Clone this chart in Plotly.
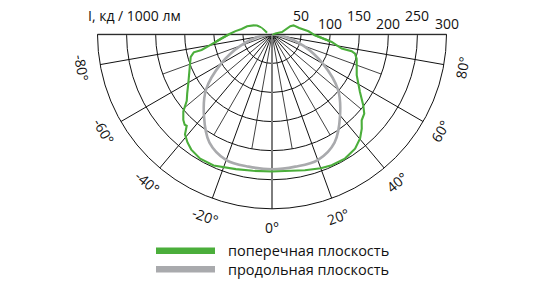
import math
import plotly.graph_objects as go

W, H = 540, 300

# ---- data ----
# transverse plane (green), path order, degrees from nadir (+ right)
green_theta = [-108, -124, -120, -116, -108, -100, -95, -90, -85, -80, -77.5, -77, -74.5,
               -70, -65, -60, -55, -52, -49, -46, -44, -43, -41, -38, -35, -30, -24,
               -15, -8, 0, 8, 13.6, 20, 24.5, 30.4, 36, 40.2, 43.6, 46.2, 49.3, 52.1,
               56.7, 64.2, 70, 74, 76.9, 78, 78.4, 82.7, 88.7, 94.7, 103, 112.5, 114,
               103, 103]
green_r = [9, 21, 30, 35, 45, 53, 63, 74, 88, 108, 124, 138, 145,
           150, 157, 166, 178, 186, 202, 212, 216, 215, 228, 236, 242, 247, 247,
           240, 237, 236, 237, 240.6, 245, 247.5, 247.8, 243, 234.6, 223.8, 213.6, 209.2, 198.9,
           180.9, 161.8, 155, 151.4, 146.5, 140, 122.3, 103.5, 74, 63, 48, 40, 34.5,
           17.6, 0]

# longitudinal plane (grey)
gray_theta = [-90, -80, -70, -60, -50, -40, -30, -20, -10, 0, 10, 20, 30, 40, 50, 60, 70, 80, 90]
gray_r = [0, 22, 58, 101, 148, 182, 215, 230, 231, 232, 231, 230, 215, 182, 148, 101, 58, 22, 0]

ring_values = [50, 100, 150, 200, 250, 300]
ring_labels = ["50", "100", "150", "200", "250", "300"]
minor_spoke_angles = [-90, -70, -50, -30, -10, 10, 30, 50, 70, 90]
minor_spoke_len = 200
angle_ticks = [-80, -60, -40, -20, 0, 20, 40, 60, 80]
angle_labels = ["-80°", "-60°", "-40°", "-20°", "0°", "20°", "40°", "60°", "80°"]
title_text = "I, кд / 1000 лм"
legend_labels = ["поперечная плоскость", "продольная плоскость"]

GREEN = "#4bae3b"
GRAY = "#a9aaad"
AXGRAY = "#7d7d7d"
GRID = "#111111"
FONT = "Open Sans"
RMAX = 300
R2MAX = 100          # range of the helper subplot used for the part above the diameter

# ---- geometry of the polar area ----
cx_px, cy_px, R_px = 272.0, 34.3, 174.5
dom_x = [(cx_px - R_px) / W, (cx_px + R_px) / W]
dom_y = [1 - (cy_px + R_px) / H, 1 - cy_px / H]

# helper subplot: same centre & scale, smaller radius, sector reaching above the diameter
R2_px = R_px * R2MAX / RMAX
phi = 36
dom2_x = [(cx_px - R2_px) / W, (cx_px + R2_px) / W]
dom2_y = [1 - (cy_px + R2_px) / H, 1 - (cy_px - R2_px * math.sin(math.radians(phi))) / H]


def to_paper(theta_deg, r):
    s = R_px / RMAX
    t = math.radians(theta_deg)
    x = cx_px + r * s * math.sin(t)
    y = cy_px + r * s * math.cos(t)
    return x / W, 1 - y / H


fig = go.Figure()

# shorter intermediate spokes
sp_r, sp_t = [], []
for a in minor_spoke_angles:
    sp_r += [0, minor_spoke_len, None]
    sp_t += [a, a, None]
fig.add_trace(go.Scatterpolar(r=sp_r, theta=sp_t, mode="lines",
                              line=dict(color=GRID, width=0.8), hoverinfo="skip",
                              showlegend=False))

# axis lines (horizontal diameter, nadir line)
fig.add_trace(go.Scatterpolar(r=[RMAX, 0, RMAX], theta=[-90, 0, 90], mode="lines",
                              line=dict(color=AXGRAY, width=2), hoverinfo="skip",
                              showlegend=False))
fig.add_trace(go.Scatterpolar(r=[0, RMAX], theta=[0, 0], mode="lines",
                              line=dict(color=AXGRAY, width=2), hoverinfo="skip",
                              showlegend=False))

fig.add_trace(go.Scatterpolar(r=gray_r, theta=gray_theta, mode="lines",
                              line=dict(color=GRAY, width=2.6, shape="spline", smoothing=1),
                              name=legend_labels[1], showlegend=False))
fig.add_trace(go.Scatterpolar(r=green_r, theta=green_theta, mode="lines",
                              line=dict(color=GREEN, width=2.1),
                              name=legend_labels[0], showlegend=False))
# same green curve in the helper subplot (shows the part above the diameter)
fig.add_trace(go.Scatterpolar(r=green_r, theta=green_theta, mode="lines", subplot="polar2",
                              line=dict(color=GREEN, width=2.1),
                              name=legend_labels[0], showlegend=False))

fig.update_layout(
    width=W, height=H,
    margin=dict(l=0, r=0, t=0, b=0),
    paper_bgcolor="white",
    showlegend=False,
    polar=dict(
        domain=dict(x=dom_x, y=dom_y),
        sector=[180, 360],
        bgcolor="white",
        angularaxis=dict(rotation=-90, direction="counterclockwise", dtick=20,
                         showticklabels=False, ticks="", showgrid=True,
                         gridcolor=GRID, gridwidth=0.8, showline=True,
                         linecolor=GRID, linewidth=1),
        radialaxis=dict(range=[0, RMAX], tickvals=ring_values, showticklabels=False,
                        ticks="", showline=False, gridcolor=GRID, gridwidth=0.8),
    ),
    polar2=dict(
        domain=dict(x=dom2_x, y=dom2_y),
        sector=[180 - phi, 360 + phi],
        bgcolor="rgba(0,0,0,0)",
        angularaxis=dict(visible=False, rotation=-90, direction="counterclockwise"),
        radialaxis=dict(visible=False, range=[0, R2MAX]),
    ),
)

annotations = []
# radial value labels, staggered above the diameter
for i, (v, lab) in enumerate(zip(ring_values, ring_labels)):
    x, _ = to_paper(90, v)
    ypx = 15.5 if i % 2 == 0 else 23.3
    annotations.append(dict(x=x, y=1 - ypx / H, xref="paper", yref="paper", text=lab,
                            showarrow=False, xanchor="center", yanchor="middle",
                            font=dict(family=FONT, size=14, color="#111111")))
annotations.append(dict(x=134 / W, y=1 - 15.5 / H, xref="paper", yref="paper",
                        text=title_text, showarrow=False, xanchor="center", yanchor="middle",
                        font=dict(family=FONT, size=14, color="#111111")))
# angle labels
for a, lab in zip(angle_ticks, angle_labels):
    x, y = to_paper(a, 333)
    annotations.append(dict(x=x, y=y, xref="paper", yref="paper", text=lab,
                            showarrow=False, xanchor="center", yanchor="middle",
                            textangle=-a,
                            font=dict(family=FONT, size=14, color="#111111")))

# legend
shapes = []
for i, (lab, col) in enumerate(zip(legend_labels, [GREEN, GRAY])):
    ypx = 250.8 + i * 18.5
    shapes.append(dict(type="line", xref="paper", yref="paper",
                       x0=156 / W, x1=215 / W, y0=1 - ypx / H, y1=1 - ypx / H,
                       line=dict(color=col, width=6.5)))
    annotations.append(dict(x=226 / W, y=1 - ypx / H, xref="paper", yref="paper",
                            text=lab, showarrow=False, xanchor="left", yanchor="middle",
                            font=dict(family=FONT, size=14.5, color="#111111")))

fig.update_layout(annotations=annotations, shapes=shapes)
fig.write_html("out.html")
